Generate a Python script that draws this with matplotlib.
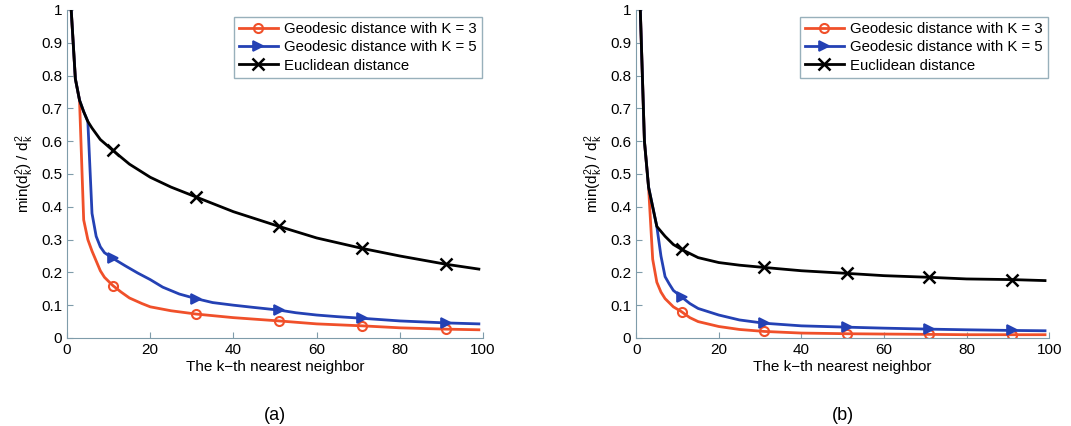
import matplotlib.pyplot as plt
import numpy as np

plt.rcParams['font.family'] = ['Liberation Sans', 'DejaVu Sans']
plt.rcParams['mathtext.fontset'] = 'custom'
plt.rcParams['mathtext.rm'] = 'Liberation Sans'
plt.rcParams['mathtext.it'] = 'Liberation Sans'

# panel (a)
k_euc_a = [1, 2, 3, 4, 5, 6, 8, 11, 15, 20, 25, 31, 40, 51, 60, 71, 80, 91, 99]
euc_a = [1.0, 0.79, 0.725, 0.69, 0.66, 0.64, 0.605, 0.572, 0.53, 0.49, 0.46, 0.43,
         0.385, 0.34, 0.305, 0.273, 0.25, 0.225, 0.21]
k_g3_a = [1, 2, 3, 4, 5, 6, 7, 8, 9, 11, 13, 15, 18, 20, 25, 31, 40, 51, 60, 71, 80, 91, 99]
g3_a = [1.0, 0.79, 0.725, 0.36, 0.30, 0.265, 0.235, 0.205, 0.185, 0.16, 0.14, 0.122,
        0.105, 0.095, 0.083, 0.073, 0.062, 0.052, 0.043, 0.037, 0.031, 0.027, 0.025]
k_g5_a = [1, 2, 3, 4, 5, 6, 7, 8, 9, 11, 14, 17, 20, 23, 27, 31, 35, 40, 45, 51, 55,
          60, 65, 71, 80, 91, 99]
g5_a = [1.0, 0.79, 0.725, 0.69, 0.66, 0.38, 0.31, 0.278, 0.26, 0.243, 0.22, 0.198,
        0.178, 0.155, 0.134, 0.12, 0.108, 0.10, 0.093, 0.085, 0.077, 0.07, 0.065,
        0.06, 0.052, 0.046, 0.043]

# panel (b)
k_euc_b = [1, 2, 3, 4, 5, 7, 9, 11, 15, 20, 25, 31, 40, 51, 60, 71, 80, 91, 99]
euc_b = [1.0, 0.60, 0.46, 0.40, 0.34, 0.31, 0.285, 0.27, 0.245, 0.23, 0.222, 0.215,
         0.205, 0.197, 0.19, 0.185, 0.18, 0.178, 0.175]
k_g3_b = [1, 2, 3, 4, 5, 6, 7, 9, 11, 13, 15, 20, 25, 31, 40, 51, 60, 71, 80, 91, 99]
g3_b = [1.0, 0.60, 0.46, 0.24, 0.17, 0.14, 0.12, 0.095, 0.08, 0.062, 0.05, 0.035,
        0.026, 0.02, 0.015, 0.013, 0.012, 0.011, 0.01, 0.01, 0.01]
k_g5_b = [1, 2, 3, 4, 5, 6, 7, 8, 9, 11, 13, 15, 20, 25, 31, 40, 51, 60, 71, 80, 91, 99]
g5_b = [1.0, 0.60, 0.46, 0.40, 0.34, 0.25, 0.187, 0.165, 0.145, 0.125, 0.105, 0.09,
        0.07, 0.055, 0.045, 0.037, 0.033, 0.03, 0.027, 0.025, 0.023, 0.022]

marker_k = [11, 31, 51, 71, 91]
labels = ['Geodesic distance with K = 3', 'Geodesic distance with K = 5', 'Euclidean distance']
red = '#f0502a'
blue = '#2441b4'
spine_col = '#7f9caa'

fig = plt.figure(figsize=(10.71, 4.26), dpi=100)
ax1 = fig.add_axes([0.0626, 0.2066, 0.3884, 0.77])
ax2 = fig.add_axes([0.594, 0.2066, 0.3856, 0.77])

panels = [
    (ax1, (k_g3_a, g3_a), (k_g5_a, g5_a), (k_euc_a, euc_a), '(a)'),
    (ax2, (k_g3_b, g3_b), (k_g5_b, g5_b), (k_euc_b, euc_b), '(b)'),
]

for ax, g3, g5, euc, tag in panels:
    styles = [(g3, red, 'o', 'none', 6.5, 1.5),
              (g5, blue, '>', blue, 7.5, 1.2),
              (euc, 'black', 'x', 'black', 8, 1.8)]
    for (k, v), col, mk, mfc, ms, mew in styles:
        idx = [i for i, kk in enumerate(k) if kk in marker_k]
        ax.plot(k, v, color=col, lw=2, marker=mk, markevery=idx, ms=ms,
                mfc=mfc, mec=col, mew=mew)
    ax.set_xlim(0, 100)
    ax.set_ylim(0, 1)
    ax.set_xticks(np.arange(0, 101, 20))
    ax.set_yticks(np.arange(0, 1.01, 0.1))
    ax.set_yticklabels(['0'] + ['%.1f' % v for v in np.arange(0.1, 0.95, 0.1)] + ['1'])
    ax.tick_params(direction='in', labelsize=11, color=spine_col, length=4)
    for s in ['top', 'right']:
        ax.spines[s].set_visible(False)
    for s in ['left', 'bottom']:
        ax.spines[s].set_color(spine_col)
    ax.set_xlabel('The k\u2212th nearest neighbor', fontsize=11, labelpad=2)
    ax.set_ylabel(r'min(d$_k^2$) / d$_k^2$', fontsize=11, labelpad=4)
    leg = ax.legend(labels, loc='upper right', fontsize=10.75, fancybox=False,
                    borderpad=0.35, handlelength=2.6, labelspacing=0.3,
                    handletextpad=0.4, borderaxespad=0, bbox_to_anchor=(0.9965, 0.98))
    leg.get_frame().set_edgecolor(spine_col)
    leg.get_frame().set_linewidth(1.0)
    ax.text(0.5, -0.235, tag, transform=ax.transAxes, ha='center', va='center', fontsize=13)

fig.savefig('out.png', dpi=100)
